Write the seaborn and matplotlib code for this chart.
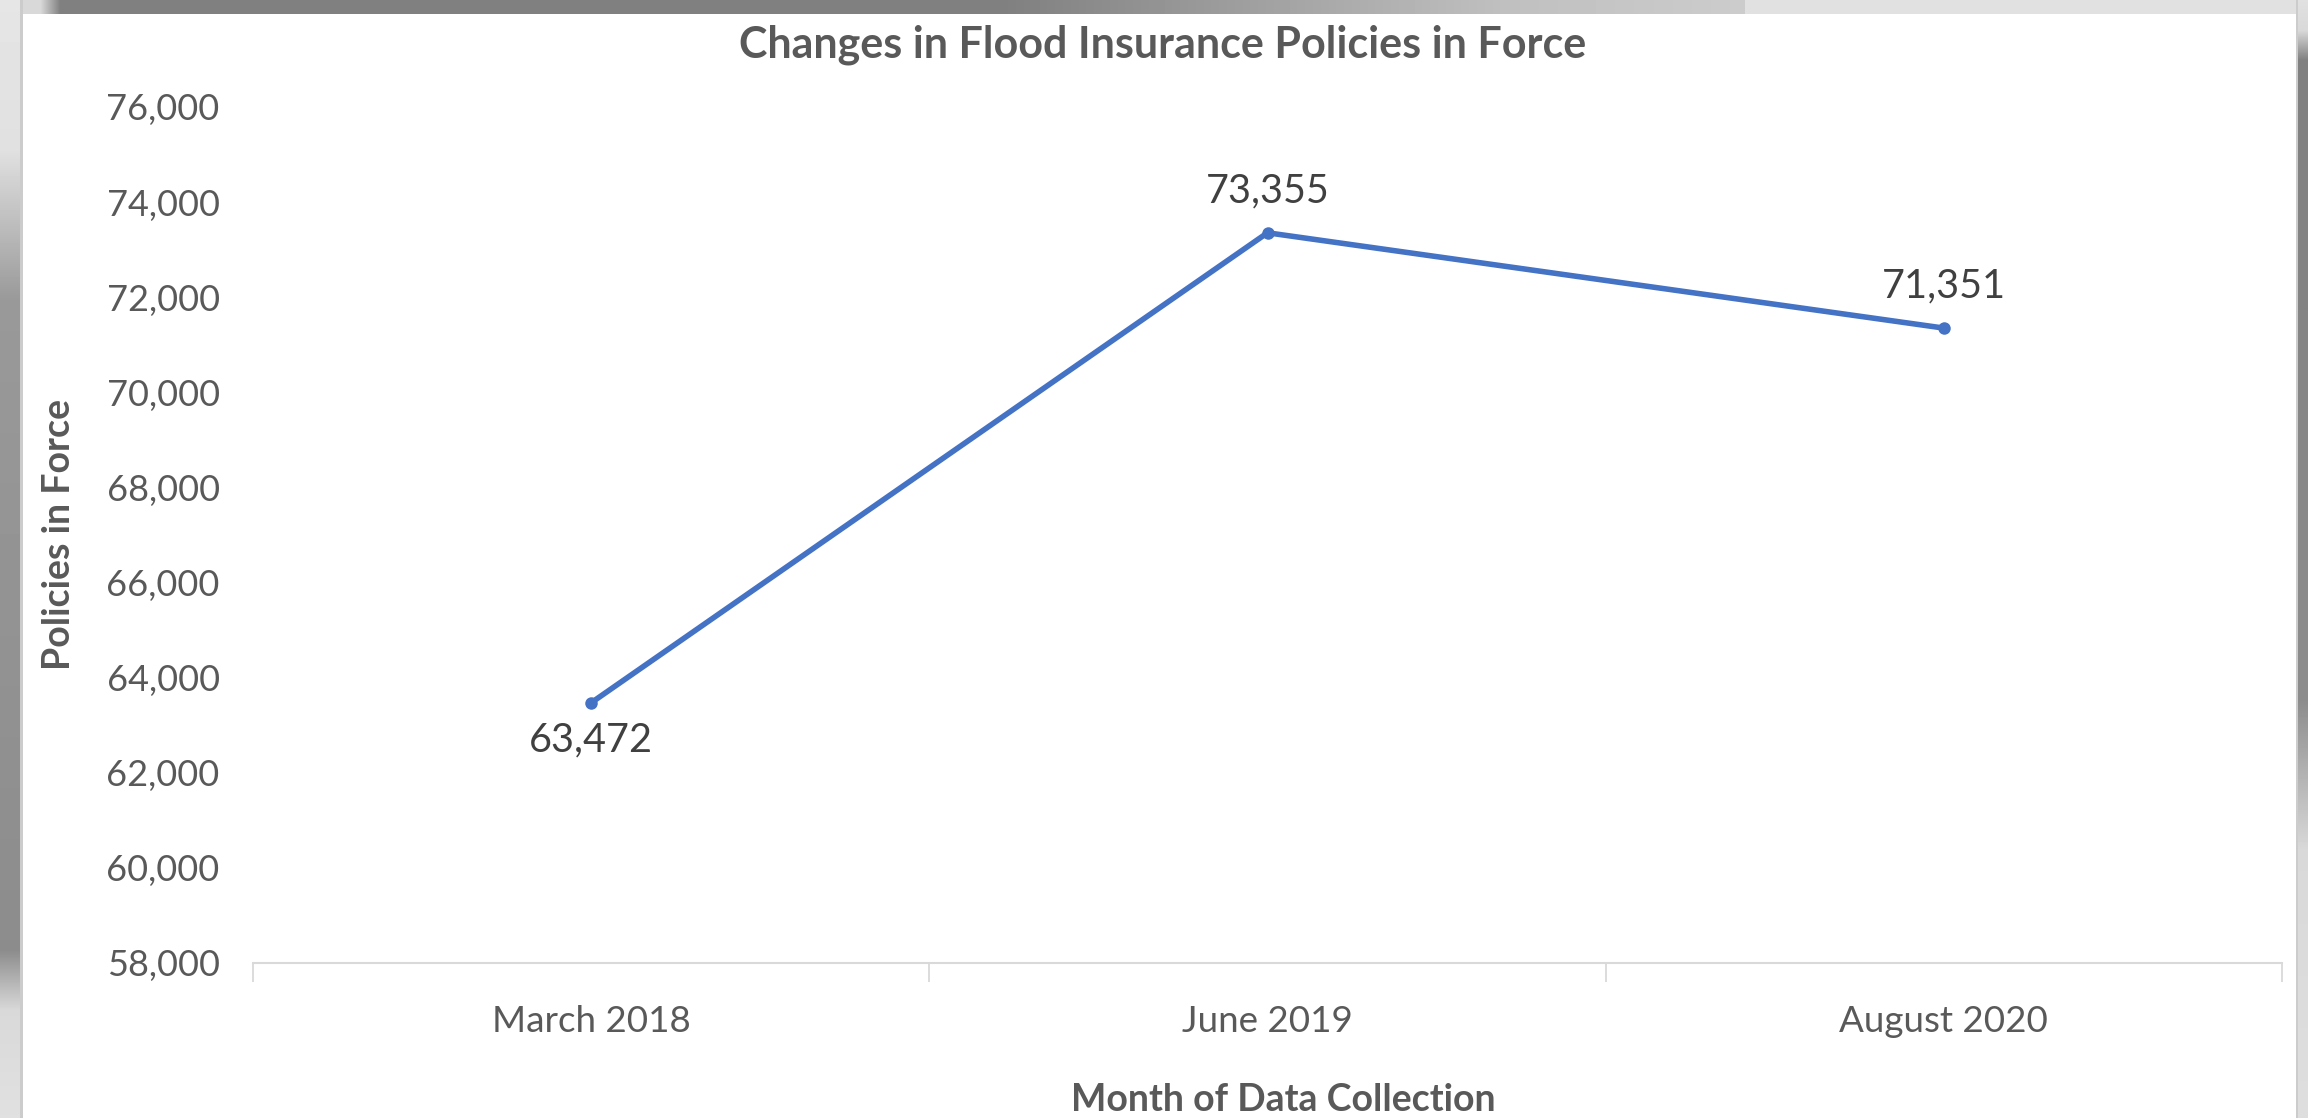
"""
Aim: redraw the flood insurance policies chart with seaborn
"""

import numpy as np
import pandas as pd

import matplotlib
matplotlib.use('Agg')
import matplotlib.pyplot as plt
from matplotlib.ticker import FuncFormatter, FixedLocator
import seaborn as sns

# data
months = ['March 2018', 'June 2019', 'August 2020']
policies = [63472, 73355, 71351]
label_above = [False, True, True]

title = 'Changes in Flood Insurance Policies in Force'
x_title = 'Month of Data Collection'
y_title = 'Policies in Force'

df = pd.DataFrame({'month': months, 'policies': policies})

sns.set_theme(style='white')
plt.rcParams['font.family'] = ['Lato', 'DejaVu Sans']

W, H = 2308, 1118
fig = plt.figure(figsize=(W / 100, H / 100), dpi=100)

# screenshot frame: gray shadow bands round the white panel
bg = fig.add_axes([0, 0, 1, 1], zorder=-10)
img = np.ones((H, W))
xs = np.arange(W)
top = np.interp(xs, [0, 40, 60, 1000, 1500, 1745, 1760, W], [0.85, 0.85, 0.5, 0.5, 0.75, 0.8, 0.88, 0.88])
img[:14, :] = top[None, :]
img[:14, 1745:] = 0.88
ys = np.arange(H)
left = np.interp(ys, [0, 150, 300, 950, 1010, H], [0.9, 0.88, 0.6, 0.55, 0.85, 0.88])
img[:, :20] = left[:, None]
img[:, 20:23] = 0.8
right = np.interp(ys, [0, 30, 60, 700, 850, H], [0.88, 0.85, 0.5, 0.55, 0.85, 0.87])
img[:, 2296:] = right[:, None]
img[:, 2296:2298] = 0.8
bg.imshow(img, cmap='gray', vmin=0, vmax=1, aspect='auto', interpolation='bilinear')
bg.axis('off')

ax = fig.add_axes([253 / W, 1 - 963 / H, (2282 - 253) / W, (963 - 107) / H])
ax.set_facecolor('none')

sns.lineplot(data=df, x='month', y='policies', marker='o', color='#4472C4',
             linewidth=4, markersize=9, markeredgewidth=0, sort=False, ax=ax)

ax.set_ylim(58000, 76000)
ax.set_xlim(-0.5, 2.5)
ax.set_yticks(np.arange(58000, 76001, 2000))
ax.yaxis.set_major_formatter(FuncFormatter(lambda v, p: f'{int(v):,}'))

text_gray = '#595959'
ax.tick_params(axis='y', length=0, pad=24, labelsize=26, labelcolor=text_gray)
ax.tick_params(axis='x', which='major', length=0, pad=30, labelsize=26.5, labelcolor=text_gray)
ax.xaxis.set_minor_locator(FixedLocator([-0.5, 0.5, 1.5, 2.5]))
ax.tick_params(axis='x', which='minor', bottom=True, length=14, width=1.3, color='#d9d9d9')

for side in ['top', 'right', 'left']:
    ax.spines[side].set_visible(False)
ax.spines['bottom'].set_color('#d9d9d9')
ax.spines['bottom'].set_linewidth(1.5)

# value labels
for i, (v, up) in enumerate(zip(policies, label_above)):
    off = 42 if up else -37
    ax.annotate(f'{v:,}', (i, v), xytext=(0, off * 0.72), textcoords='offset points',
                ha='center', va='center', fontsize=28.5, color='#404040')

ax.set_xlabel(x_title, fontsize=27, fontweight='bold', color=text_gray, va='center')
ax.xaxis.set_label_coords((1283 - 253) / (2282 - 253), -(1100 - 963) / (963 - 107))
ax.set_ylabel(y_title, fontsize=27, fontweight='bold', color=text_gray, va='center')
ax.yaxis.set_label_coords(-(253 - 59) / (2282 - 253), 0.5)

fig.text(1163 / W, 1 - 45 / H, title, ha='center', va='center',
         fontsize=31, fontweight='bold', color=text_gray)

fig.savefig('out.png', dpi=100)
